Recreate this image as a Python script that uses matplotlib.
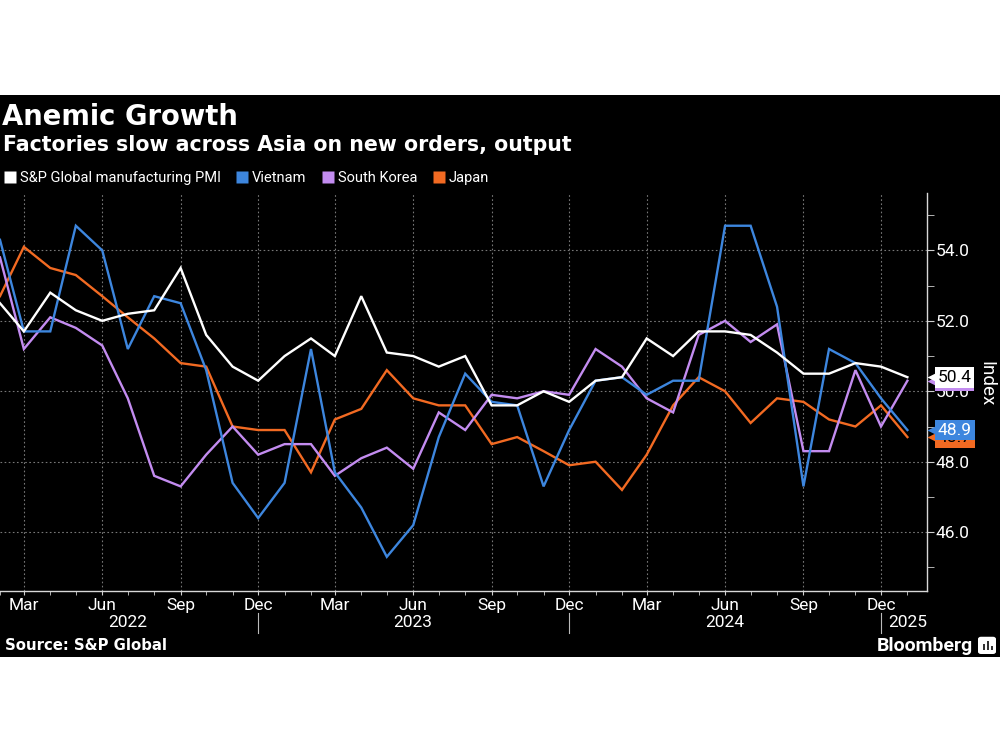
import matplotlib
matplotlib.use('Agg')
import matplotlib.pyplot as plt
import matplotlib.dates as mdates
import matplotlib.transforms as mtransforms
from matplotlib.lines import Line2D
from matplotlib.patches import Rectangle, FancyBboxPatch
import pandas as pd

plt.rcParams['font.family'] = ['Roboto', 'DejaVu Sans']

# ---------------- data ----------------
months = pd.date_range('2022-02-01', periods=36, freq='MS')

series_names = ['S&P Global manufacturing PMI', 'Vietnam', 'South Korea', 'Japan']
series_colors = ['#ffffff', '#3d86de', '#c38cf0', '#f26a22']

asean = [52.5, 51.7, 52.8, 52.3, 52.0, 52.2, 52.3, 53.5, 51.6, 50.7, 50.3,
         51.0, 51.5, 51.0, 52.7, 51.1, 51.0, 50.7, 51.0, 49.6, 49.6, 50.0,
         49.7, 50.3, 50.4, 51.5, 51.0, 51.7, 51.7, 51.6, 51.1, 50.5, 50.5,
         50.8, 50.7, 50.4]
vietnam = [54.3, 51.7, 51.7, 54.7, 54.0, 51.2, 52.7, 52.5, 50.6, 47.4, 46.4,
           47.4, 51.2, 47.7, 46.7, 45.3, 46.2, 48.7, 50.5, 49.7, 49.6, 47.3,
           48.9, 50.3, 50.4, 49.9, 50.3, 50.3, 54.7, 54.7, 52.4, 47.3, 51.2,
           50.8, 49.8, 48.9]
korea = [53.8, 51.2, 52.1, 51.8, 51.3, 49.8, 47.6, 47.3, 48.2, 49.0, 48.2,
         48.5, 48.5, 47.6, 48.1, 48.4, 47.8, 49.4, 48.9, 49.9, 49.8, 50.0,
         49.9, 51.2, 50.7, 49.8, 49.4, 51.6, 52.0, 51.4, 51.9, 48.3, 48.3,
         50.6, 49.0, 50.3]
japan = [52.7, 54.1, 53.5, 53.3, 52.7, 52.1, 51.5, 50.8, 50.7, 49.0, 48.9,
         48.9, 47.7, 49.2, 49.5, 50.6, 49.8, 49.6, 49.6, 48.5, 48.7, 48.3,
         47.9, 48.0, 47.2, 48.2, 49.6, 50.4, 50.0, 49.1, 49.8, 49.7, 49.2,
         49.0, 49.6, 48.7]

y_major = [46, 48, 50, 52, 54]
y_minor = [45, 47, 49, 51, 53, 55]
year_labels = ['2022', '2023', '2024', '2025']
year_label_pos = ['2022-07-01', '2023-06-01', '2024-06-01', '2025-01-01']
year_separators = ['2022-12-01', '2023-12-01', '2024-12-01']

title = 'Anemic Growth'
subtitle = 'Factories slow across Asia on new orders, output'
source = 'Source: S&P Global'

# ---------------- figure ----------------
fig = plt.figure(figsize=(10, 7.5), dpi=100, facecolor='white')
fig.add_artist(Rectangle((0, 0.124), 1, 0.7493, transform=fig.transFigure,
                         facecolor='black', edgecolor='none', zorder=-5))

ax = fig.add_axes([0.0, 0.212, 0.927, 0.5307])
ax.set_facecolor('black')

all_series = [asean, vietnam, korea, japan]
draw_order = [3, 2, 1, 0]
for i in draw_order:
    ax.plot(months, all_series[i], color=series_colors[i], lw=1.7,
            solid_joinstyle='miter', zorder=3 + (3 - i))

ax.set_xlim(pd.Timestamp('2022-02-01'), pd.Timestamp('2025-01-24'))
ax.set_ylim(44.33, 55.63)

# y axis on right
ax.yaxis.tick_right()
ax.set_yticks(y_major)
ax.set_yticks(y_minor, minor=True)
ax.yaxis.set_major_formatter(matplotlib.ticker.FormatStrFormatter('%.1f'))
ax.tick_params(axis='y', which='both', direction='out', length=5,
               color='#cfcfcf', labelcolor='white', labelsize=12.5, pad=1)

# x axis
ax.xaxis.set_major_locator(mdates.MonthLocator(bymonth=[3, 6, 9, 12]))
ax.xaxis.set_minor_locator(mdates.MonthLocator())
ax.xaxis.set_major_formatter(mdates.DateFormatter('%b'))
ax.tick_params(axis='x', which='both', direction='out', length=3,
               color='#cfcfcf', labelcolor='white', labelsize=12.5, pad=2)

for s in ['top', 'left']:
    ax.spines[s].set_visible(False)
for s in ['right', 'bottom']:
    ax.spines[s].set_color('#d8d8d8')
    ax.spines[s].set_linewidth(1.0)

ax.grid(which='major', color='#777777', linestyle=(0, (1.5, 2.2)), linewidth=0.8)
ax.set_axisbelow(True)

bt = mtransforms.blended_transform_factory(ax.transData, ax.transAxes)
for lab, pos in zip(year_labels, year_label_pos):
    ax.text(pd.Timestamp(pos), -0.079, lab, transform=bt, ha='center', va='center',
            color='white', fontsize=12.5, clip_on=False)
for pos in year_separators:
    ax.plot([pd.Timestamp(pos)] * 2, [-0.055, -0.106], transform=bt,
            color='#bbbbbb', lw=0.8, clip_on=False)

# end-of-line value tags (later ones drawn on top)
rt = mtransforms.blended_transform_factory(ax.transAxes, ax.transData)
tags = [(korea[-1], series_colors[2], 'black'),
        (asean[-1], series_colors[0], 'black'),
        (japan[-1], series_colors[3], 'black'),
        (vietnam[-1], series_colors[1], 'white')]
for k, (val, col, tc) in enumerate(tags):
    ax.plot([1.0085], [val], marker='<', ms=11, color=col, mec='none',
            transform=rt, clip_on=False, zorder=20 + 2 * k)
    ax.text(1.0115, val, f'{val:.1f}', transform=rt, ha='left', va='center',
            fontsize=12.5, color=tc, clip_on=False, zorder=21 + 2 * k,
            bbox=dict(boxstyle='square,pad=0.17', fc=col, ec='none'))

fig.text(0.986, 0.489, 'Index', rotation=270, ha='center', va='center',
         color='white', fontsize=13.5)

# titles
fig.text(0.002, 0.8333, title, ha='left', va='baseline', color='white',
         fontsize=19.8, fontweight='bold', family='DejaVu Sans')
fig.text(0.003, 0.7987, subtitle, ha='left', va='baseline', color='white',
         fontsize=14.8, fontweight='bold', family='DejaVu Sans')

handles = [Line2D([], [], marker='s', linestyle='none', markersize=8,
                  color=c, mec='none') for c in series_colors]
fig.legend(handles, series_names, loc='center left', bbox_to_anchor=(0.005, 0.763),
           ncol=4, frameon=False, handlelength=0.7, handletextpad=0.3,
           columnspacing=1.15, fontsize=10.5, labelcolor='white', borderaxespad=0,
           borderpad=0)

fig.text(0.005, 0.139, source, ha='left', va='center', color='white',
         fontsize=10.7, fontweight='bold', family='DejaVu Sans')
fig.text(0.973, 0.139, 'Bloomberg', ha='right', va='center', color='white',
         fontsize=14, fontweight='bold')
fig.add_artist(FancyBboxPatch((0.979, 0.129), 0.016, 0.021,
                              boxstyle='round,pad=0.001,rounding_size=0.003',
                              transform=fig.transFigure, fc='white', ec='none'))
for bx, bh in [(0.9825, 0.008), (0.9865, 0.012), (0.9905, 0.006)]:
    fig.add_artist(Rectangle((bx, 0.133), 0.0022, bh, transform=fig.transFigure,
                             fc='#333333', ec='none'))

fig.savefig('out.png', dpi=100, facecolor='white')
